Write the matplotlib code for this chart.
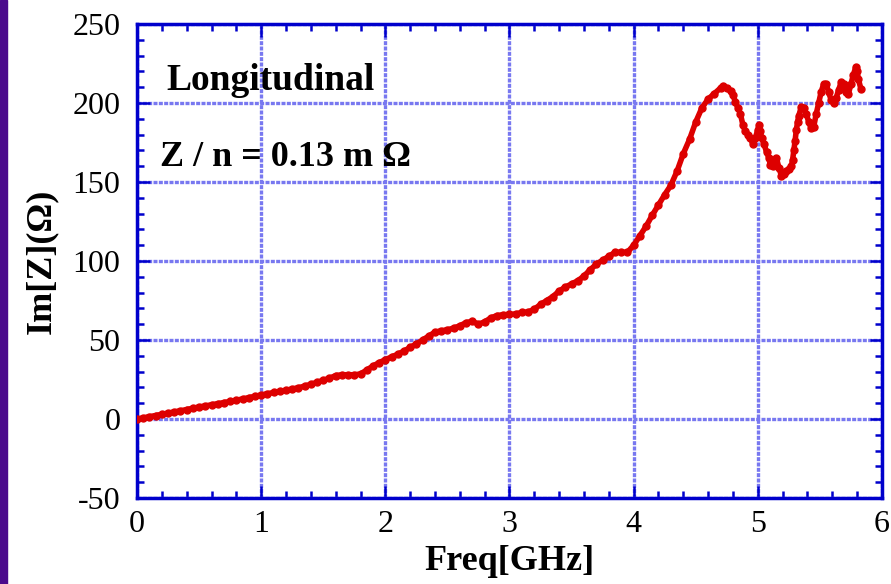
import matplotlib.pyplot as plt
from matplotlib.ticker import MultipleLocator
from matplotlib.patches import Rectangle

# measured longitudinal impedance, imaginary part
freq = [0.00, 0.05, 0.10, 0.15, 0.20, 0.25, 0.30, 0.35, 0.40, 0.45,
        0.50, 0.55, 0.60, 0.65, 0.70, 0.75, 0.80, 0.85, 0.90, 0.95,
        1.00, 1.05, 1.10, 1.15, 1.20, 1.25, 1.30, 1.35, 1.40, 1.45,
        1.50, 1.55, 1.60, 1.65, 1.70, 1.75, 1.80, 1.85, 1.90, 1.95,
        2.00, 2.05, 2.10, 2.15, 2.20, 2.25, 2.30, 2.35, 2.40, 2.45,
        2.50, 2.55, 2.60, 2.65, 2.70, 2.75, 2.80, 2.85, 2.90, 2.95,
        3.00, 3.05, 3.10, 3.15, 3.20, 3.25, 3.30, 3.35, 3.40, 3.45,
        3.50, 3.55, 3.60, 3.65, 3.70, 3.75, 3.80, 3.85, 3.90, 3.95,
        4.00, 4.05, 4.10, 4.15, 4.20, 4.25, 4.30, 4.35, 4.40, 4.45,
        4.50, 4.55, 4.60, 4.65, 4.70, 4.72, 4.75, 4.78, 4.80, 4.82,
        4.84, 4.86, 4.88, 4.90, 4.92, 4.94, 4.96, 4.98, 5.00, 5.01,
        5.02, 5.03, 5.05, 5.07, 5.09, 5.10, 5.12, 5.14, 5.15, 5.17,
        5.19, 5.21, 5.23, 5.25, 5.27, 5.28, 5.29, 5.30, 5.31, 5.32,
        5.33, 5.35, 5.37, 5.39, 5.41, 5.43, 5.45, 5.47, 5.49, 5.51,
        5.53, 5.55, 5.57, 5.59, 5.61, 5.63, 5.65, 5.67, 5.69, 5.71,
        5.73, 5.75, 5.77, 5.79, 5.80, 5.81, 5.83]
imz = [0.0, 0.7, 1.5, 2.2, 3.0, 3.7, 4.5, 5.2, 6.0, 6.8,
       7.6, 8.3, 9.0, 9.7, 10.4, 11.1, 11.9, 12.7, 13.5, 14.4,
       15.2, 16.0, 16.8, 17.5, 18.2, 19.0, 19.8, 20.8, 22.0, 23.2,
       24.5, 25.8, 27.5, 28.0, 28.0, 28.0, 28.5, 31.0, 33.5, 35.7,
       37.5, 39.3, 41.0, 43.0, 45.3, 47.5, 50.0, 52.5, 55.0, 55.8,
       56.5, 57.5, 59.0, 61.0, 61.8, 60.0, 61.5, 64.0, 65.5, 66.0,
       66.2, 66.5, 67.5, 67.7, 69.5, 72.5, 75.0, 77.5, 81.0, 83.5,
       85.5, 87.5, 90.5, 94.5, 98.0, 100.5, 103.0, 105.5, 105.5, 105.5,
       110.0, 116.0, 122.0, 129.0, 135.5, 142.0, 148.0, 157.0, 168.0, 177.0,
       188.0, 197.0, 202.5, 206.0, 209.5, 211.0, 209.5, 207.5, 205.0, 200.5,
       197.0, 193.0, 186.0, 182.0, 180.0, 178.0, 174.0, 178.0, 183.0, 186.0,
       182.0, 178.0, 174.0, 169.0, 165.0, 161.0, 160.0, 163.0, 165.0, 159.0,
       154.0, 155.0, 157.0, 158.0, 160.0, 164.0, 170.0, 176.0, 183.0, 188.0,
       192.0, 197.5, 197.0, 193.0, 188.0, 184.0, 185.0, 193.0, 200.0, 207.0,
       212.0, 212.0, 207.0, 202.0, 200.0, 203.0, 208.0, 213.0, 212.0, 207.0,
       206.0, 212.0, 218.0, 223.0, 220.0, 215.0, 209.0]

plt.rcParams['font.family'] = ['Liberation Serif', 'DejaVu Serif']
plt.rcParams['axes.unicode_minus'] = False

blue = '#0000cc'
red = '#dd0000'

fig = plt.figure(figsize=(8.91, 5.84), dpi=100)
fig.patches.append(Rectangle((0, 0), 7 / 891, 1, transform=fig.transFigure,
                             color='#4b0a8c', zorder=0))
ax = fig.add_axes([137 / 891, 1 - 498 / 584, 745 / 891, 474 / 584])

ax.plot(freq, imz, '-', color=red, lw=4.0, solid_capstyle='round',
        solid_joinstyle='round', zorder=3)
ax.plot(freq, imz, 'o', color=red, ms=5.0, mec=red, zorder=4)

ax.set_xlim(0, 6)
ax.set_ylim(-50, 250)
ax.xaxis.set_major_locator(MultipleLocator(1))
ax.xaxis.set_minor_locator(MultipleLocator(0.2))
ax.yaxis.set_major_locator(MultipleLocator(50))
ax.yaxis.set_minor_locator(MultipleLocator(10))

ax.grid(True, which='major', color='#7878f0', lw=2.4, ls=(0, (1.2, 0.4)), zorder=1)
for s in ax.spines.values():
    s.set_color(blue)
    s.set_linewidth(2.5)
ax.tick_params(which='both', direction='in', top=True, right=True,
               color=blue, width=1.8, labelsize=23)
ax.tick_params(which='major', length=9)
ax.tick_params(which='minor', length=5)
ax.tick_params(axis='x', pad=9)
ax.tick_params(axis='y', pad=12)

ax.set_xlabel('Freq[GHz]', fontsize=26, fontweight='bold', labelpad=4)
ax.set_ylabel('Im[Z](Ω)', fontsize=26, fontweight='bold', labelpad=10)

ax.text(0.04, 0.86, 'Longitudinal', transform=ax.transAxes,
        fontsize=27, fontweight='bold', va='baseline', ha='left')
ax.text(0.031, 0.70, 'Z / n = 0.13 m Ω', transform=ax.transAxes,
        fontsize=26, fontweight='bold', va='baseline', ha='left')

plt.savefig('out.png', dpi=100)
